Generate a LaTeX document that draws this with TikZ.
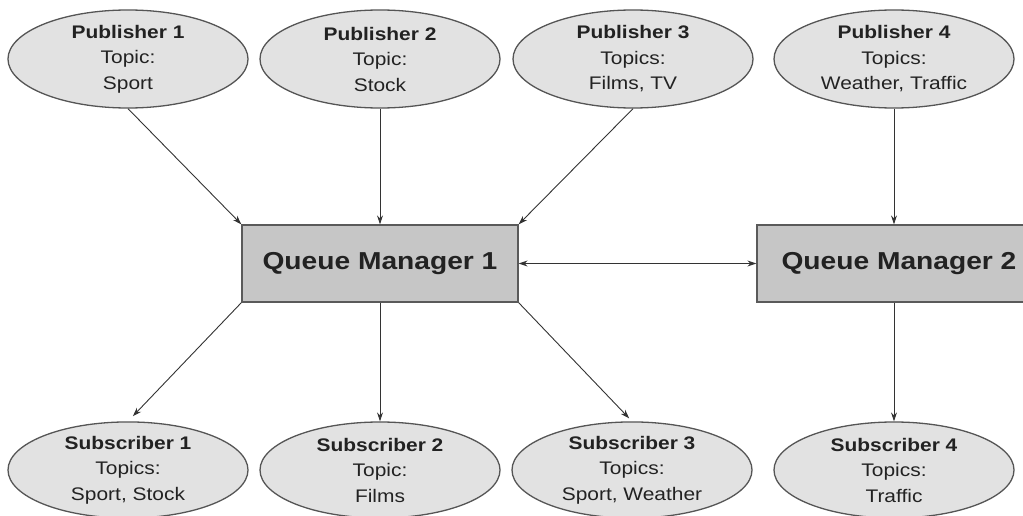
\documentclass[tikz,border=0pt]{standalone}
\usepackage{fontspec}
\setmainfont{Liberation Sans}[FakeStretch=1.15]
\usetikzlibrary{arrows.meta,shapes.geometric}
\definecolor{ellfill}{HTML}{E2E2E2}
\definecolor{ellline}{HTML}{555555}
\definecolor{boxfill}{HTML}{C6C6C6}
\definecolor{boxline}{HTML}{5A5A5A}
\definecolor{txt}{HTML}{222222}
\definecolor{arrcol}{HTML}{333333}
\begin{document}
\begin{tikzpicture}[x=1pt,y=-1pt,
  ell/.style={ellipse,draw=ellline,fill=ellfill,line width=1.3pt,minimum width=240pt,minimum height=98pt,inner sep=0pt,align=center,text=txt,font=\fontsize{18.2}{25.5}\selectfont},
  qm/.style={rectangle,draw=boxline,fill=boxfill,line width=1.3pt,minimum width=276pt,minimum height=77pt,inner sep=0pt,text=txt,font=\fontsize{24.5}{28}\selectfont\bfseries},
  arr/.style={draw=arrcol,line width=0.9pt,-{Stealth[length=9pt,width=6pt]}},
  barr/.style={draw=arrcol,line width=0.9pt,{Stealth[length=9pt,width=6pt]}-{Stealth[length=9pt,width=6pt]}}]
\useasboundingbox (0,0) rectangle (1023,516);
\node[ell] (p1) at (128,59) {\textbf{Publisher 1}\\Topic:\\Sport};
\node[ell] (p2) at (380,59) {\textbf{Publisher 2}\\Topic:\\Stock};
\node[ell] (p3) at (633,59) {\textbf{Publisher 3}\\Topics:\\Films, TV};
\node[ell] (p4) at (894,59) {\textbf{Publisher 4}\\Topics:\\Weather, Traffic};
\node[qm] (q1) at (380,263.5) {Queue Manager 1};
\node[qm] (q2) at (895,263.5) {\hspace*{8pt}Queue Manager 2};
\node[ell,minimum height=96pt] (s1) at (128,470) {\textbf{Subscriber 1}\\Topics:\\Sport, Stock};
\node[ell,minimum height=96pt] (s2) at (380,470) {\textbf{Subscriber 2}\\Topic:\\Films};
\node[ell,minimum height=96pt] (s3) at (632,470) {\textbf{Subscriber 3}\\Topics:\\Sport, Weather};
\node[ell,minimum height=96pt] (s4) at (894,470) {\textbf{Subscriber 4}\\Topics:\\Traffic};
\draw[arr] (p1.south) -- (q1.north west);
\draw[arr] (p2.south) -- (q1.north);
\draw[arr] (p3.south) -- (q1.north east);
\draw[arr] (p4.south) -- (p4.south |- q2.north);
\draw[barr] (q1.east) -- (q2.west);
\draw[arr,shorten >=7pt] (q1.south west) -- (s1.north);
\draw[arr] (q1.south) -- (s2.north);
\draw[arr,shorten >=4pt] (q1.south east) -- (s3.north);
\draw[arr] (p4.south |- q2.south) -- (s4.north);
\end{tikzpicture}
\end{document}
